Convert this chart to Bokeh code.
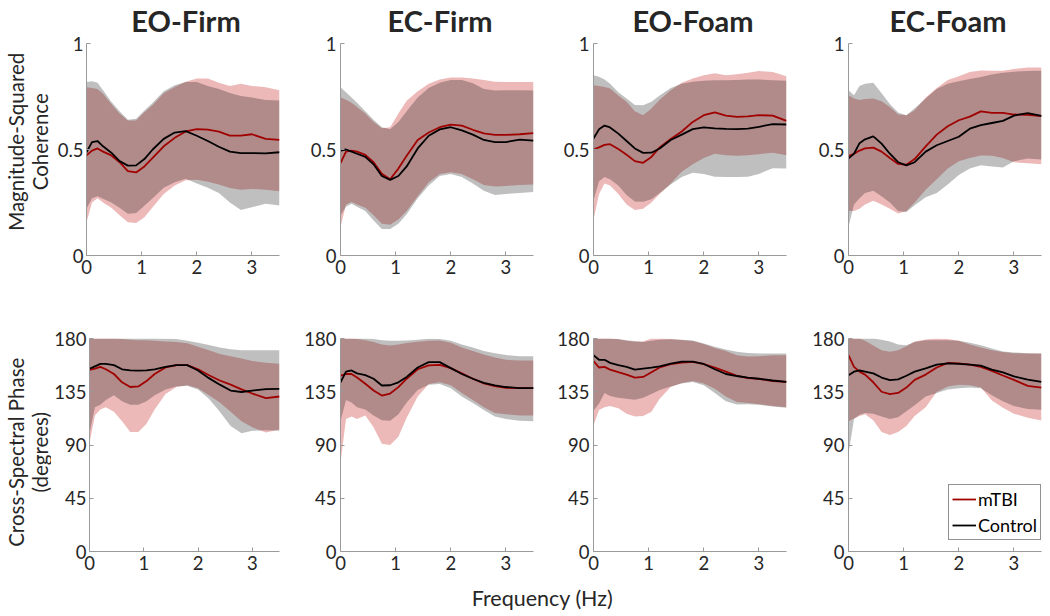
import math
from bokeh.plotting import figure
from bokeh.layouts import column, row
from bokeh.models import Range1d, Legend, LegendItem, Label
from bokeh.embed import file_html
from bokeh.resources import INLINE

# ---------------- data ----------------
FREQ = [0, 0.1, 0.2, 0.3, 0.45, 0.6, 0.75, 0.9, 1.05, 1.2, 1.4, 1.6, 1.8, 2.0, 2.2, 2.4, 2.6, 2.8, 3.0, 3.25, 3.5]

CONDITIONS = ["EO-Firm", "EC-Firm", "EO-Foam", "EC-Foam"]
GROUPS = ["mTBI", "Control"]
COH_TICKS = [0, 0.5, 1]
PHASE_TICKS = [0, 45, 90, 135, 180]
FREQ_TICKS = [0, 1, 2, 3]
COH_LABEL = ["Magnitude-Squared", "Coherence"]
PHASE_LABEL = ["Cross-Spectral Phase", "(degrees)"]
X_LABEL = "Frequency (Hz)"

# Magnitude-squared coherence
eo_firm_coh_mtbi_mean  = [0.472, 0.495, 0.505, 0.49, 0.472, 0.44, 0.398, 0.392, 0.42, 0.46, 0.515, 0.555, 0.585, 0.596, 0.594, 0.584, 0.565, 0.565, 0.572, 0.55, 0.545]
eo_firm_coh_mtbi_upper = [0.794, 0.79, 0.785, 0.763, 0.715, 0.67, 0.637, 0.637, 0.676, 0.71, 0.765, 0.795, 0.82, 0.835, 0.835, 0.815, 0.80, 0.81, 0.80, 0.794, 0.78]
eo_firm_coh_mtbi_lower = [0.157, 0.25, 0.27, 0.25, 0.225, 0.19, 0.157, 0.153, 0.18, 0.228, 0.29, 0.33, 0.355, 0.357, 0.348, 0.335, 0.318, 0.31, 0.314, 0.31, 0.303]
eo_firm_coh_ctrl_mean  = [0.487, 0.535, 0.54, 0.515, 0.485, 0.445, 0.424, 0.425, 0.455, 0.50, 0.55, 0.58, 0.587, 0.565, 0.54, 0.513, 0.49, 0.483, 0.483, 0.482, 0.487]
eo_firm_coh_ctrl_upper = [0.818, 0.822, 0.815, 0.78, 0.725, 0.68, 0.64, 0.645, 0.684, 0.72, 0.775, 0.803, 0.818, 0.818, 0.80, 0.785, 0.766, 0.752, 0.745, 0.734, 0.731]
eo_firm_coh_ctrl_lower = [0.22, 0.27, 0.28, 0.268, 0.25, 0.225, 0.197, 0.20, 0.235, 0.27, 0.32, 0.345, 0.362, 0.34, 0.32, 0.295, 0.25, 0.215, 0.228, 0.244, 0.236]

ec_firm_coh_mtbi_mean  = [0.436, 0.49, 0.495, 0.49, 0.475, 0.44, 0.385, 0.36, 0.41, 0.47, 0.545, 0.58, 0.605, 0.617, 0.613, 0.593, 0.576, 0.569, 0.569, 0.572, 0.577]
ec_firm_coh_mtbi_upper = [0.747, 0.735, 0.72, 0.70, 0.67, 0.63, 0.60, 0.605, 0.67, 0.73, 0.775, 0.81, 0.83, 0.84, 0.84, 0.835, 0.828, 0.82, 0.818, 0.818, 0.818]
ec_firm_coh_mtbi_lower = [0.134, 0.24, 0.252, 0.24, 0.225, 0.19, 0.15, 0.145, 0.17, 0.21, 0.28, 0.345, 0.385, 0.393, 0.385, 0.36, 0.333, 0.325, 0.328, 0.332, 0.335]
ec_firm_coh_ctrl_mean  = [0.495, 0.50, 0.49, 0.48, 0.465, 0.43, 0.375, 0.357, 0.375, 0.42, 0.505, 0.565, 0.595, 0.605, 0.59, 0.57, 0.545, 0.535, 0.535, 0.547, 0.542]
ec_firm_coh_ctrl_upper = [0.794, 0.77, 0.745, 0.72, 0.68, 0.64, 0.605, 0.595, 0.63, 0.68, 0.745, 0.79, 0.815, 0.828, 0.828, 0.812, 0.785, 0.778, 0.78, 0.78, 0.778]
ec_firm_coh_ctrl_lower = [0.19, 0.23, 0.244, 0.23, 0.21, 0.165, 0.125, 0.125, 0.15, 0.195, 0.27, 0.33, 0.375, 0.385, 0.37, 0.34, 0.305, 0.285, 0.29, 0.295, 0.30]

eo_foam_coh_mtbi_mean  = [0.50, 0.51, 0.522, 0.525, 0.502, 0.475, 0.445, 0.437, 0.465, 0.51, 0.55, 0.585, 0.63, 0.662, 0.675, 0.66, 0.654, 0.656, 0.662, 0.66, 0.635]
eo_foam_coh_mtbi_upper = [0.803, 0.80, 0.795, 0.788, 0.755, 0.725, 0.68, 0.662, 0.693, 0.735, 0.78, 0.815, 0.835, 0.85, 0.86, 0.85, 0.855, 0.862, 0.87, 0.865, 0.846]
eo_foam_coh_mtbi_lower = [0.167, 0.29, 0.34, 0.33, 0.29, 0.24, 0.215, 0.22, 0.25, 0.29, 0.34, 0.395, 0.43, 0.46, 0.48, 0.473, 0.47, 0.473, 0.478, 0.485, 0.473]
eo_foam_coh_ctrl_mean  = [0.552, 0.595, 0.613, 0.604, 0.575, 0.54, 0.505, 0.484, 0.485, 0.505, 0.545, 0.57, 0.596, 0.604, 0.60, 0.597, 0.596, 0.598, 0.607, 0.62, 0.618]
eo_foam_coh_ctrl_upper = [0.85, 0.843, 0.83, 0.81, 0.77, 0.74, 0.71, 0.709, 0.725, 0.755, 0.79, 0.81, 0.82, 0.824, 0.827, 0.827, 0.828, 0.83, 0.83, 0.827, 0.824]
eo_foam_coh_ctrl_lower = [0.26, 0.35, 0.37, 0.36, 0.33, 0.285, 0.255, 0.253, 0.265, 0.295, 0.335, 0.37, 0.39, 0.385, 0.372, 0.37, 0.37, 0.372, 0.385, 0.412, 0.41]

ec_foam_coh_mtbi_mean  = [0.469, 0.48, 0.495, 0.505, 0.509, 0.49, 0.46, 0.432, 0.428, 0.455, 0.515, 0.57, 0.61, 0.638, 0.655, 0.68, 0.673, 0.673, 0.665, 0.664, 0.657]
ec_foam_coh_mtbi_upper = [0.756, 0.74, 0.733, 0.738, 0.74, 0.728, 0.70, 0.665, 0.662, 0.685, 0.745, 0.79, 0.828, 0.845, 0.865, 0.873, 0.872, 0.872, 0.88, 0.887, 0.887]
ec_foam_coh_mtbi_lower = [0.21, 0.21, 0.22, 0.24, 0.258, 0.24, 0.22, 0.198, 0.21, 0.25, 0.31, 0.36, 0.41, 0.445, 0.46, 0.472, 0.47, 0.46, 0.44, 0.435, 0.43]
ec_foam_coh_ctrl_mean  = [0.458, 0.48, 0.53, 0.548, 0.562, 0.528, 0.48, 0.44, 0.425, 0.44, 0.49, 0.52, 0.54, 0.56, 0.598, 0.615, 0.625, 0.635, 0.66, 0.672, 0.659]
ec_foam_coh_ctrl_upper = [0.78, 0.756, 0.80, 0.81, 0.815, 0.765, 0.715, 0.675, 0.662, 0.695, 0.74, 0.785, 0.81, 0.822, 0.832, 0.842, 0.854, 0.862, 0.867, 0.87, 0.871]
ec_foam_coh_ctrl_lower = [0.135, 0.24, 0.27, 0.295, 0.305, 0.28, 0.25, 0.21, 0.205, 0.237, 0.275, 0.295, 0.335, 0.38, 0.41, 0.426, 0.42, 0.415, 0.445, 0.457, 0.453]

# Cross-spectral phase (degrees)
eo_firm_ph_mtbi_mean  = [153.5, 154.5, 156, 154, 150, 143, 139, 139.5, 144, 150, 155.5, 157.5, 157.5, 154, 149, 144.5, 141, 137, 133.5, 129.6, 131]
eo_firm_ph_mtbi_upper = [180, 180, 180, 180, 180, 179.5, 179, 178.5, 178.5, 178, 177.5, 177, 176, 173, 170, 167, 165, 163, 161, 159.5, 158.6]
eo_firm_ph_mtbi_lower = [92, 115, 120, 122, 118, 110, 101, 101, 108, 120, 133, 139, 140.5, 138, 132, 126, 118, 110, 105, 100.5, 103]
eo_firm_ph_ctrl_mean  = [154.4, 156.5, 158.5, 158.5, 157.5, 154, 153, 152.8, 153, 154, 156, 157.5, 157.5, 153, 146.5, 141, 136, 134.8, 136, 137.3, 137.5]
eo_firm_ph_ctrl_upper = [180, 180, 180, 180, 180, 180, 180, 180, 180, 180, 179.7, 179.5, 178, 176.5, 174.5, 172.5, 171, 170, 170, 170, 170]
eo_firm_ph_ctrl_lower = [100, 122, 124, 128, 132, 127, 124, 124, 127, 132, 137, 139.5, 140, 137, 129, 118, 106, 100, 102, 102.5, 102]

ec_firm_ph_mtbi_mean  = [148.7, 150, 150, 147, 141.7, 136, 131.8, 133.5, 138.9, 146, 154, 157.3, 157.7, 155, 150.5, 146, 142, 139.7, 138.3, 138, 138]
ec_firm_ph_mtbi_upper = [180, 180, 180, 179.5, 178.5, 177, 175, 174, 175, 176.3, 177.3, 178, 178.3, 176.5, 172.5, 169.5, 166.5, 164, 162, 161.4, 161.4]
ec_firm_ph_mtbi_lower = [75, 112, 114, 112, 115, 105, 91, 90, 97, 113, 131, 141.5, 143, 140.5, 134, 128, 122, 117, 116, 115, 115]
ec_firm_ph_ctrl_mean  = [143, 152, 153, 150.5, 149, 146, 140.3, 140.5, 143, 147.5, 155.5, 160, 160, 155, 150, 146, 142.5, 140.3, 139, 138, 138]
ec_firm_ph_ctrl_upper = [180, 180, 180, 180, 180, 179.5, 178.5, 178, 178, 178.3, 179, 179.7, 179.5, 178, 175, 172.5, 169.5, 167.5, 166, 165, 165]
ec_firm_ph_ctrl_lower = [110, 128, 126, 122, 120, 115, 111, 110.5, 116, 126, 136.5, 141, 141.5, 138, 131, 125.5, 119.5, 114, 112, 110.5, 110]

eo_foam_ph_mtbi_mean  = [161, 155.5, 156, 153.7, 151.5, 149.5, 147, 147.5, 151.5, 155.5, 158.3, 159.7, 160.2, 158.3, 155.5, 152, 148.5, 146.5, 145.8, 144, 143.3]
eo_foam_ph_mtbi_upper = [180, 180, 180, 180, 179.3, 178, 177.3, 177.5, 180, 180, 179.5, 178.7, 177.8, 175.3, 172, 169.5, 165.9, 164.8, 165, 165.9, 165.9]
eo_foam_ph_mtbi_lower = [106.5, 119.5, 122, 123, 121, 116.5, 114, 114.5, 118, 129, 139, 142.5, 144, 142, 137.5, 131, 126.3, 125.5, 124.5, 123, 122]
eo_foam_ph_ctrl_mean  = [165.9, 162, 162, 159.4, 157.5, 156, 153.7, 154.5, 155.3, 156.5, 158.8, 160.5, 160.5, 158.5, 154, 150, 148.3, 147, 146, 144.5, 143.3]
eo_foam_ph_ctrl_upper = [180, 180, 180, 180, 179.5, 178.6, 177.8, 177, 178, 179, 179.3, 179, 178.4, 175.8, 173, 170.8, 168.7, 167.7, 167.3, 167.3, 167.3]
eo_foam_ph_ctrl_lower = [119, 125, 134, 131.5, 130, 129, 128.3, 130, 133, 136.5, 139.5, 142, 143.3, 140.5, 134, 127, 124.3, 124.5, 124, 122.5, 121.5]

ec_foam_ph_mtbi_mean  = [166, 156, 152, 149.5, 143, 135, 133, 134, 138.5, 145, 149.5, 155.5, 159.3, 159, 158, 156, 152.6, 148.7, 145, 140, 138.5]
ec_foam_ph_mtbi_upper = [180, 180, 180, 178, 174, 170, 168.7, 170, 173.5, 177.5, 179.2, 180, 179.5, 178, 175, 172.5, 170, 168.5, 167.6, 167.3, 167.3]
ec_foam_ph_mtbi_lower = [110, 112.5, 114.5, 116, 111, 101, 98.5, 101, 106, 114.5, 122, 134.8, 139.5, 141, 140.5, 138.5, 127.7, 121.5, 116.5, 113, 110.8]
ec_foam_ph_ctrl_mean  = [149, 152, 153, 152, 150.5, 147, 144.8, 145.5, 148.5, 152, 154.8, 158, 159, 158.5, 158, 157, 153.7, 151.3, 148, 145.3, 143.3]
ec_foam_ph_ctrl_upper = [180, 180, 180, 180, 180, 179, 177.5, 175, 174.4, 177, 178.6, 178.6, 178.6, 178, 176.5, 174.4, 171.6, 169, 168.2, 167.6, 167.3]
ec_foam_ph_ctrl_lower = [82.5, 112, 115.5, 117, 116.5, 114, 112, 113.5, 118.5, 123.5, 131, 134, 137, 138, 138.5, 138, 132, 127, 123, 120.5, 119.8]

# ---------------- styling / layout ----------------
FONT = "Lato"
TEXT = "#262626"
AXIS = "#9a9a9a"
MTBI_LINE = "#A00000"
CTRL_LINE = "#000000"

LABEL_W = 51
# (left border, right border) per column, so frames sit where the reference puts them
BORDERS = [(35, 5), (56, 5), (55, 5), (57, 8)]
FRAME_W = 193
TITLE_H = 34
TOP = dict(h=261, bt=9, fh=212, label_c=121)      # figure height, top border, frame height, label centre (from fig top)
BOT = dict(h=281, bt=43, fh=213, label_c=150)


def blank(width, height):
    f = figure(width=width, height=height, x_range=Range1d(0, width), y_range=Range1d(0, height),
               output_backend="svg", toolbar_location=None, min_border=0,
               x_axis_location=None, y_axis_location=None)
    f.outline_line_color = None
    f.grid.visible = False
    return f


def panel(col, top, mt, ct, legend=False):
    bl, br = BORDERS[col]
    spec = TOP if top else BOT
    bb = spec["h"] - spec["bt"] - spec["fh"]
    if top:
        ylim, yticks = (0, 1), COH_TICKS
        overrides = {0: "0", 0.5: "0.5", 1: "1"}
    else:
        ylim, yticks = (0, 180), PHASE_TICKS
        overrides = {}
    p = figure(width=bl + FRAME_W + br, height=spec["h"],
               x_range=Range1d(0, 3.5), y_range=Range1d(*ylim),
               output_backend="svg", toolbar_location=None,
               min_border_left=bl, min_border_right=br,
               min_border_top=spec["bt"], min_border_bottom=bb)
    p.outline_line_color = None
    p.grid.visible = False

    p.varea(x=FREQ, y1=mt[2], y2=mt[1], fill_color=(187, 0, 0), fill_alpha=0.28)
    p.varea(x=FREQ, y1=ct[2], y2=ct[1], fill_color="black", fill_alpha=0.25)
    r_m = p.line(FREQ, mt[0], line_color=MTBI_LINE, line_width=1.8)
    r_c = p.line(FREQ, ct[0], line_color=CTRL_LINE, line_width=1.8)

    for ax in (p.xaxis[0], p.yaxis[0]):
        ax.axis_line_color = AXIS
        ax.major_tick_line_color = AXIS
        ax.major_tick_in = 4
        ax.major_tick_out = 0
        ax.minor_tick_line_color = None
        ax.major_label_text_font = FONT
        ax.major_label_text_font_size = "18.5px"
        ax.major_label_text_color = TEXT
    p.xaxis.major_label_standoff = 4
    p.yaxis.major_label_standoff = 3 if col == 0 else 4
    p.xaxis.ticker = FREQ_TICKS
    p.yaxis.ticker = yticks
    if overrides:
        p.yaxis.major_label_overrides = overrides

    if legend:
        lg = Legend(items=[LegendItem(label=GROUPS[0], renderers=[r_m]),
                           LegendItem(label=GROUPS[1], renderers=[r_c])],
                    location=(100, 11), orientation="vertical")
        lg.label_text_font = FONT
        lg.label_text_font_size = "18px"
        lg.label_text_color = "black"
        lg.glyph_width = 24
        lg.glyph_height = 22
        lg.label_standoff = 2
        lg.padding = 3
        lg.spacing = 4
        lg.margin = 0
        lg.border_line_color = "#262626"
        lg.border_line_width = 1
        lg.background_fill_color = "white"
        lg.background_fill_alpha = 1
        p.add_layout(lg, "center")
    return p


def ylabel_fig(spec, lines):
    h = spec["h"]
    f = blank(LABEL_W, h)
    yc = h - spec["label_c"]
    for xpos, txt in zip((15.5, 39), lines):
        f.add_layout(Label(x=xpos, y=yc, text=txt, angle=math.pi / 2,
                           text_font=FONT, text_font_size="20.5px", text_color=TEXT,
                           text_align="center", text_baseline="middle"))
    return f


coh = [
    ((eo_firm_coh_mtbi_mean, eo_firm_coh_mtbi_upper, eo_firm_coh_mtbi_lower), (eo_firm_coh_ctrl_mean, eo_firm_coh_ctrl_upper, eo_firm_coh_ctrl_lower)),
    ((ec_firm_coh_mtbi_mean, ec_firm_coh_mtbi_upper, ec_firm_coh_mtbi_lower), (ec_firm_coh_ctrl_mean, ec_firm_coh_ctrl_upper, ec_firm_coh_ctrl_lower)),
    ((eo_foam_coh_mtbi_mean, eo_foam_coh_mtbi_upper, eo_foam_coh_mtbi_lower), (eo_foam_coh_ctrl_mean, eo_foam_coh_ctrl_upper, eo_foam_coh_ctrl_lower)),
    ((ec_foam_coh_mtbi_mean, ec_foam_coh_mtbi_upper, ec_foam_coh_mtbi_lower), (ec_foam_coh_ctrl_mean, ec_foam_coh_ctrl_upper, ec_foam_coh_ctrl_lower)),
]
phase = [
    ((eo_firm_ph_mtbi_mean, eo_firm_ph_mtbi_upper, eo_firm_ph_mtbi_lower), (eo_firm_ph_ctrl_mean, eo_firm_ph_ctrl_upper, eo_firm_ph_ctrl_lower)),
    ((ec_firm_ph_mtbi_mean, ec_firm_ph_mtbi_upper, ec_firm_ph_mtbi_lower), (ec_firm_ph_ctrl_mean, ec_firm_ph_ctrl_upper, ec_firm_ph_ctrl_lower)),
    ((eo_foam_ph_mtbi_mean, eo_foam_ph_mtbi_upper, eo_foam_ph_mtbi_lower), (eo_foam_ph_ctrl_mean, eo_foam_ph_ctrl_upper, eo_foam_ph_ctrl_lower)),
    ((ec_foam_ph_mtbi_mean, ec_foam_ph_mtbi_upper, ec_foam_ph_mtbi_lower), (ec_foam_ph_ctrl_mean, ec_foam_ph_ctrl_upper, ec_foam_ph_ctrl_lower)),
]

TOTAL_W = LABEL_W + sum(bl + FRAME_W + br for bl, br in BORDERS)   # 1049

# column titles, centred over each frame
tf = blank(TOTAL_W, TITLE_H)
x_left = LABEL_W
for (bl, br), name in zip(BORDERS, CONDITIONS):
    tf.add_layout(Label(x=x_left + bl + FRAME_W / 2.0 + 3, y=TITLE_H - 19.5, text=name,
                        text_font=FONT, text_font_size="29px", text_font_style="bold",
                        text_color=TEXT, text_align="center", text_baseline="middle"))
    x_left += bl + FRAME_W + br

top_row = [ylabel_fig(TOP, COH_LABEL)] + [panel(i, True, coh[i][0], coh[i][1]) for i in range(4)]
bot_row = [ylabel_fig(BOT, PHASE_LABEL)] + [panel(i, False, phase[i][0], phase[i][1], legend=(i == 3)) for i in range(4)]

XL_H = 39                                                # total height 34+261+281+39 = 615
xl = blank(TOTAL_W, XL_H)
xl.add_layout(Label(x=542, y=18, text=X_LABEL, text_font=FONT, text_font_size="21.5px",
                    text_color=TEXT, text_align="center", text_baseline="alphabetic"))

layout = column(tf, row(*top_row), row(*bot_row), xl)

open("out.html", "w").write(file_html(layout, INLINE))
